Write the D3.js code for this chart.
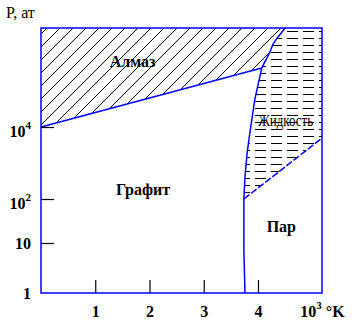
<!DOCTYPE html>
<html>
<head>
<meta charset="utf-8">
<script src="https://cdn.jsdelivr.net/npm/d3@7"></script>
<style>
  body { margin: 0; background: #fff; }
  .frame, .boundary { fill: none; stroke: #0000ff; stroke-width: 1.5; }
  .tick line { stroke: #000; stroke-width: 1.2; }
</style>
</head>
<body>
<div id="chart"></div>
<script>
// T in 10^3 K, pressure as log10(P, at)
var tempTicks  = [1, 2, 3, 4];
var tempMax    = 5.18;
var pressTicks = [0, 1, 2, 4];
var pressBase  = ["1", "10", "10", "10"];
var pressSup   = ["", "", "2", "4"];
var pressMax   = 7;

// phase boundaries, [T, log10 P]
var graphiteDiamond = [[0, 4], [4.07, 5.79]];
var diamondLiquid   = [[4.07, 5.79], [4.22, 6.27], [4.28, 6.52], [4.37, 6.73], [4.50, 7]];
var graphiteLiquid  = [[4.07, 5.79], [4.02, 5.42], [3.94, 4.82], [3.85, 3.83], [3.80, 3.28],
                       [3.76, 2.61], [3.74, 2.0], [3.74, 0.86], [3.76, 0]];
var liquidVapour    = [[3.74, 2.0], [5.18, 3.69]];

// region names and where they sit (T, log10 P)
var phaseNames = ["Алмаз", "Графит", "Жидкость", "Пар"];
var phaseT     = [1.69, 1.88, 4.51, 4.43];
var phaseP     = [5.82, 2.11, 4.03, 1.25];

var serif = "'Liberation Serif', 'Times New Roman', Tinos, 'DejaVu Serif', serif";

var margin = {top: 28, right: 31, bottom: 27, left: 41};
var width  = 353 - margin.left - margin.right;
var height = 320 - margin.top - margin.bottom;

var svg = d3.select("#chart").append("svg")
  .attr("width", 353)
  .attr("height", 320)
  .style("font-family", serif);

var plot = svg.append("g")
  .attr("transform", "translate(" + margin.left + "," + margin.top + ")");

var x = d3.scaleLinear()
  .domain([0, tempMax])
  .range([0, width]);

// the pressure axis is schematic: decades are not evenly spaced
var y = d3.scaleLinear()
  .domain([0, 1, 2, 4, pressMax])
  .range([height, height - 50, height - 94, height - 166, 0]);

var line = d3.line()
  .x(d => x(d[0]))
  .y(d => y(d[1]));

// fill patterns
var defs = svg.append("defs");

var hatch = defs.append("pattern")
  .attr("id", "hatch")
  .attr("patternUnits", "userSpaceOnUse")
  .attr("x", 6)
  .attr("width", 13)
  .attr("height", 13);
hatch.append("path")
  .attr("d", "M0,13L13,0M-2,2L2,-2M11,15L15,11")
  .attr("stroke", "#000")
  .attr("stroke-width", 1);

var dashes = defs.append("pattern")
  .attr("id", "dashes")
  .attr("patternUnits", "userSpaceOnUse")
  .attr("x", 6)
  .attr("width", 16)
  .attr("height", 7);
dashes.append("line")
  .attr("x1", 0).attr("x2", 11)
  .attr("y1", 3.5).attr("y2", 3.5)
  .attr("stroke", "#000")
  .attr("shape-rendering", "crispEdges");

// diamond region: top edge, down the melting curve, back along graphite line
var diamondTop  = diamondLiquid[diamondLiquid.length - 1];
var diamondArea = [[0, pressMax], [diamondTop[0], pressMax]]
  .concat(diamondLiquid.slice().reverse())
  .concat([graphiteDiamond[0]]);

plot.append("path")
  .datum(diamondArea)
  .attr("fill", "url(#hatch)")
  .attr("d", line);

// liquid region
var liquidArea = diamondLiquid
  .concat([[tempMax, pressMax]])
  .concat(liquidVapour.slice().reverse())
  .concat(graphiteLiquid.slice(0, 7).reverse());

plot.append("path")
  .datum(liquidArea)
  .attr("fill", "url(#dashes)")
  .attr("d", line);

// boundaries
[graphiteDiamond, diamondLiquid, graphiteLiquid].forEach(function(b) {
  plot.append("path")
    .datum(b)
    .attr("class", "boundary")
    .attr("d", line);
});

plot.append("path")
  .datum(liquidVapour)
  .attr("class", "boundary")
  .attr("stroke-dasharray", "7,2")
  .attr("d", line);

// axes
function powerLabel(t, base, sup, tail) {
  t.attr("font-family", serif)
    .style("font-family", serif)
    .attr("font-size", 16)
    .attr("font-weight", "bold")
    .attr("fill", "#000");
  t.append("tspan").text(base);
  if (sup) {
    t.append("tspan").attr("dy", "-8").attr("font-size", "11px").text(sup);
    if (tail) t.append("tspan").attr("dy", "8").text(tail);
  }
}

var xAxis = d3.axisBottom(x)
  .tickValues(tempTicks.concat([tempMax]))
  .tickSize(-13)
  .tickPadding(13)
  .tickFormat("");

var gx = plot.append("g")
  .attr("transform", "translate(0," + height + ")")
  .call(xAxis)
  .attr("font-family", serif);
gx.select(".domain").remove();
gx.selectAll(".tick").each(function(d) {
  var tick = d3.select(this);
  var t = tick.select("text");
  if (d === tempMax) {
    tick.select("line").remove();
    powerLabel(t, "10", "3", " °K");
  } else {
    powerLabel(t, d, "", "");
  }
});

var yAxis = d3.axisLeft(y)
  .tickValues(pressTicks)
  .tickSize(-13)
  .tickPadding(10)
  .tickFormat("");

var gy = plot.append("g").call(yAxis)
  .attr("font-family", serif);
gy.select(".domain").remove();
gy.selectAll(".tick").each(function(d, i) {
  var tick = d3.select(this);
  var t = tick.select("text");
  if (d === 0) tick.select("line").remove();
  if (pressSup[i]) t.attr("dy", "0.6em");
  powerLabel(t, pressBase[i], pressSup[i], "");
});

// frame
plot.append("rect")
  .attr("class", "frame")
  .attr("width", width)
  .attr("height", height);

// phase names
plot.selectAll(".phase")
  .data(phaseNames)
  .enter().append("text")
  .attr("class", "phase")
  .attr("x", (d, i) => x(phaseT[i]))
  .attr("y", (d, i) => y(phaseP[i]))
  .attr("text-anchor", "middle")
  .style("font-family", serif)
  .attr("font-size", 16)
  .attr("font-weight", d => d === "Жидкость" ? "normal" : "bold")
  .attr("textLength", d => d === "Жидкость" ? 55 : null)
  .attr("lengthAdjust", d => d === "Жидкость" ? "spacingAndGlyphs" : null)
  .text(d => d);

svg.append("text")
  .attr("x", 6)
  .attr("y", 18)
  .style("font-family", serif)
  .attr("font-size", 16)
  .text("P, ат");
</script>
</body>
</html>
